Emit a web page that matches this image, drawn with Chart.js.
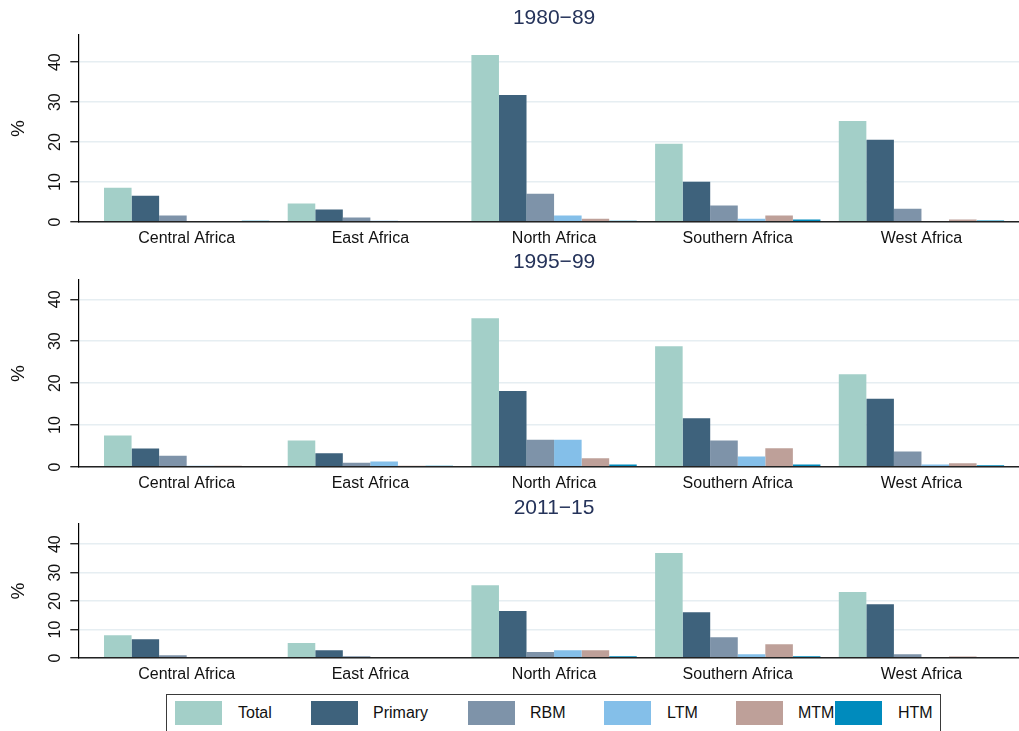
<!DOCTYPE html>
<html lang="en">

<head>
    <meta charset="UTF-8">
    <script src="https://cdn.jsdelivr.net/npm/chart.js"></script>
    <title>Shares by region</title>
    <style>
        body {
            margin: 0;
            background: #fff;
            width: 1019px;
            height: 731px;
            overflow: hidden;
            position: relative;
            font-family: 'Liberation Sans', Arial, sans-serif;
        }

        canvas {
            position: absolute;
            left: 0;
        }

        #legendBox {
            position: absolute;
            left: 166px;
            top: 694px;
            width: 775px;
            height: 50px;
            border: 1.5px solid #3a3a3a;
            box-sizing: border-box;
        }

        .swatch {
            position: absolute;
            top: 701px;
            width: 47px;
            height: 24px;
        }

        .legendLabel {
            position: absolute;
            top: 704px;
            font-size: 16px;
            line-height: 18px;
            color: #111;
        }
    </style>
</head>

<body>
    <div id="legendBox"></div>
</body>

</html>

<script>
    // categories and series
    const regions = ['Central Africa', 'East Africa', 'North Africa', 'Southern Africa', 'West Africa'];
    const seriesNames = ['Total', 'Primary', 'RBM', 'LTM', 'MTM', 'HTM'];
    const yTicks = [0, 10, 20, 30, 40];

    // 1980-89
    const total_8089 = [8.6, 4.6, 41.8, 19.6, 25.3];
    const primary_8089 = [6.6, 3.1, 31.8, 10.1, 20.6];
    const rbm_8089 = [1.6, 1.1, 7.1, 4.1, 3.3];
    const ltm_8089 = [0.05, 0.3, 1.6, 0.8, 0.2];
    const mtm_8089 = [0.05, 0.2, 0.8, 1.6, 0.6];
    const htm_8089 = [0.3, 0.05, 0.3, 0.6, 0.4];

    // 1995-99
    const total_9599 = [7.5, 6.3, 35.5, 28.8, 22.1];
    const primary_9599 = [4.4, 3.3, 18.1, 11.6, 16.3];
    const rbm_9599 = [2.7, 1.0, 6.5, 6.3, 3.7];
    const ltm_9599 = [0.3, 1.3, 6.5, 2.5, 0.6];
    const mtm_9599 = [0.3, 0.3, 2.1, 4.5, 0.9];
    const htm_9599 = [0.05, 0.3, 0.6, 0.6, 0.4];

    // 2011-15
    const total_1115 = [8.0, 5.3, 25.6, 36.9, 23.2];
    const primary_1115 = [6.6, 2.7, 16.5, 16.1, 18.9];
    const rbm_1115 = [1.0, 0.6, 2.1, 7.3, 1.3];
    const ltm_1115 = [0.05, 0.3, 2.7, 1.3, 0.2];
    const mtm_1115 = [0.3, 0.3, 2.7, 4.8, 0.5];
    const htm_1115 = [0.05, 0.3, 0.6, 0.6, 0.3];

    const colors = ['#a3cfc8', '#3e627c', '#7e93a9', '#84bfe9', '#bea099', '#008bbd'];

    // layout of each panel (page pixels)
    const panels = [
        { title: '1980\u221289', top: 0, height: 244, areaTop: 35, areaBottom: 222, yMax: 46.8,
          values: [total_8089, primary_8089, rbm_8089, ltm_8089, mtm_8089, htm_8089] },
        { title: '1995\u221299', top: 244, height: 246, areaTop: 36, areaBottom: 223, yMax: 44.6,
          values: [total_9599, primary_9599, rbm_9599, ltm_9599, mtm_9599, htm_9599] },
        { title: '2011\u221215', top: 490, height: 200, areaTop: 34, areaBottom: 168, yMax: 47.1,
          values: [total_1115, primary_1115, rbm_1115, ltm_1115, mtm_1115, htm_1115] }
    ];

    const FONT = "'Liberation Sans', Arial, sans-serif";
    Chart.defaults.font.family = FONT;
    Chart.defaults.font.size = 16;
    Chart.defaults.color = '#111';

    // panel title, centred over the middle group like Stata does
    const panelTitle = {
        id: 'panelTitle',
        afterDraw(chart, args, opts) {
            const ctx = chart.ctx;
            const x = chart.scales.x.getPixelForValue(2);
            ctx.save();
            ctx.font = '21px ' + FONT;
            ctx.fillStyle = '#25335a';
            ctx.textAlign = 'center';
            ctx.textBaseline = 'middle';
            ctx.fillText(opts.text, x, opts.y);
            ctx.restore();
        }
    };

    panels.forEach((p, n) => {
        const canvas = document.createElement('canvas');
        canvas.width = 1019;
        canvas.height = p.height;
        canvas.style.top = p.top + 'px';
        document.body.appendChild(canvas);

        new Chart(canvas.getContext('2d'), {
            type: 'bar',
            data: {
                labels: regions.map((r, i) => i),
                datasets: seriesNames.map((name, k) => ({
                    label: name,
                    data: p.values[k],
                    backgroundColor: colors[k],
                    borderWidth: 0,
                    categoryPercentage: 0.9,
                    barPercentage: 1.0
                }))
            },
            options: {
                responsive: false,
                animation: false,
                devicePixelRatio: 1,
                layout: { padding: { top: p.areaTop, left: 0, right: 0, bottom: 0 } },
                scales: {
                    x: {
                        type: 'linear',
                        min: -0.59,
                        max: 4.531,
                        offset: false,
                        afterBuildTicks: s => { s.ticks = regions.map((r, i) => ({ value: i })); },
                        afterFit: s => { s.height = p.height - p.areaBottom; },
                        grid: { display: false, drawTicks: false },
                        border: { display: true, color: '#222', width: 1.5, z: 1 },
                        ticks: {
                            padding: 7,
                            maxRotation: 0,
                            autoSkip: false,
                            color: '#111',
                            callback: v => regions[v]
                        }
                    },
                    y: {
                        min: 0,
                        max: p.yMax,
                        afterBuildTicks: s => { s.ticks = yTicks.map(v => ({ value: v })); },
                        afterFit: s => { s.width = 78.3; },
                        grid: {
                            color: '#e6eef2',
                            lineWidth: 1.5,
                            tickLength: 8,
                            tickColor: '#000',
                            tickWidth: 1.2,
                            z: -1
                        },
                        border: { display: true, color: '#000', width: 1.2, z: 1 },
                        ticks: {
                            minRotation: 90,
                            maxRotation: 90,
                            crossAlign: 'center',
                            padding: 5.7,
                            color: '#111'
                        },
                        title: {
                            display: true,
                            text: '%',
                            color: '#111',
                            font: { size: 19 },
                            padding: { top: 7, bottom: 0 }
                        }
                    }
                },
                plugins: {
                    legend: { display: false },
                    tooltip: { enabled: false },
                    panelTitle: { text: p.title, y: 18 }
                }
            },
            plugins: [panelTitle]
        });
    });

    // legend below the panels
    const swatchX = [175, 311, 468, 604, 736, 835];
    const labelX = [238, 373, 530, 667, 798, 898];

    seriesNames.forEach((name, k) => {
        const sw = document.createElement('div');
        sw.className = 'swatch';
        sw.style.left = swatchX[k] + 'px';
        sw.style.background = colors[k];
        document.body.appendChild(sw);

        const lb = document.createElement('div');
        lb.className = 'legendLabel';
        lb.style.left = labelX[k] + 'px';
        lb.textContent = name;
        document.body.appendChild(lb);
    });
</script>
